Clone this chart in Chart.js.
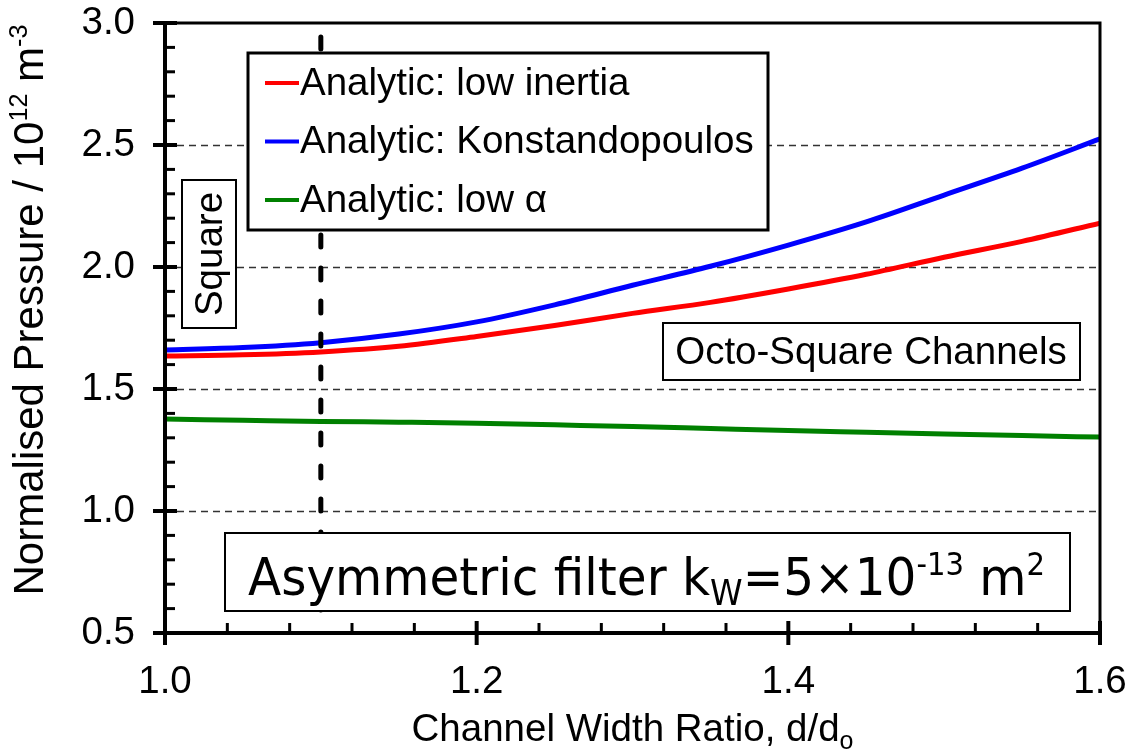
<!DOCTYPE html>
<html>
<head>
<meta charset="utf-8">
<script src="https://cdn.jsdelivr.net/npm/chart.js@4.4.1/dist/chart.umd.min.js"></script>
<style>
  html, body { margin: 0; padding: 0; background: #fff; }
  #wrap { width: 1127px; height: 751px; }
</style>
</head>
<body>
<div id="wrap"><canvas id="chart" width="1127" height="751"></canvas></div>
<script>
// channel width ratio d/do
const widthRatio = [1.00, 1.05, 1.10, 1.15, 1.20, 1.25, 1.30, 1.35, 1.40, 1.45, 1.50, 1.55, 1.60];
// normalised pressure / 1e12 m^-3
const lowInertia      = [1.635, 1.640, 1.652, 1.675, 1.715, 1.760, 1.810, 1.855, 1.910, 1.970, 2.040, 2.105, 2.180];
const konstandopoulos = [1.660, 1.670, 1.690, 1.725, 1.775, 1.845, 1.925, 2.003, 2.090, 2.185, 2.295, 2.405, 2.525];
const lowAlpha        = [1.377, 1.372, 1.367, 1.364, 1.360, 1.353, 1.346, 1.338, 1.330, 1.323, 1.316, 1.309, 1.303];

const seriesNames  = ['Analytic: low inertia', 'Analytic: Konstandopoulos', 'Analytic: low α'];
const seriesColors = ['#ff0000', '#0000ff', '#008000'];
const xTickValues = [1.0, 1.2, 1.4, 1.6];
const yTickValues = [0.5, 1.0, 1.5, 2.0, 2.5, 3.0];
const squareRatio = 1.1;   // dashed marker for square channels

const FONT = "'Liberation Sans', Arial, sans-serif";

function partSize(p, size) {
    return p[1] ? size * (p[2] || 0.6) : size;
}

// draw text made of pieces, some raised (1) or lowered (-1)
function measureRich(ctx, parts, size, family) {
    let w = 0;
    parts.forEach(p => {
        ctx.font = partSize(p, size) + 'px ' + family;
        w += ctx.measureText(p[0]).width;
    });
    return w;
}

function drawRich(ctx, parts, x, y, size, align, family) {
    family = family || FONT;
    const w = measureRich(ctx, parts, size, family);
    let cx = align === 'center' ? x - w / 2 : x;
    parts.forEach(p => {
        const s = partSize(p, size);
        ctx.font = s + 'px ' + family;
        const dy = p[1] === 1 ? -size * 0.38 : (p[1] === -1 ? size * 0.2 : 0);
        ctx.fillText(p[0], cx, y + dy);
        cx += ctx.measureText(p[0]).width;
    });
    return w;
}

const decorations = {
    id: 'decorations',
    beforeDatasetsDraw(chart) {
        const ctx = chart.ctx;
        const a = chart.chartArea;
        const ys = chart.scales.y;
        ctx.save();
        // dashed grid lines
        ctx.strokeStyle = '#333';
        ctx.lineWidth = 1.5;
        ctx.setLineDash([7, 5]);
        yTickValues.forEach(v => {
            if (v === yTickValues[0] || v === yTickValues[yTickValues.length - 1]) return;
            const py = Math.round(ys.getPixelForValue(v)) + 0.5;
            ctx.beginPath();
            ctx.moveTo(a.left, py);
            ctx.lineTo(a.right, py);
            ctx.stroke();
        });
        ctx.restore();
    },
    afterDatasetsDraw(chart) {
        const ctx = chart.ctx;
        const a = chart.chartArea;
        const xs = chart.scales.x;
        const ys = chart.scales.y;
        ctx.save();

        // vertical dashed line at the square channel ratio
        const sx = xs.getPixelForValue(squareRatio);
        ctx.strokeStyle = '#000';
        ctx.lineWidth = 5;
        ctx.lineCap = 'round';
        ctx.setLineDash([12, 21]);
        ctx.beginPath();
        ctx.moveTo(sx, a.top + 14);
        ctx.lineTo(sx, a.bottom - 6);
        ctx.stroke();
        ctx.setLineDash([]);
        ctx.lineCap = 'butt';

        // frame
        ctx.lineWidth = 3;
        ctx.beginPath();
        ctx.moveTo(a.left, a.top);
        ctx.lineTo(a.right, a.top);
        ctx.lineTo(a.right, a.bottom);
        ctx.stroke();
        ctx.lineWidth = 4;
        ctx.beginPath();
        ctx.moveTo(a.left, a.top);
        ctx.lineTo(a.left, a.bottom);
        ctx.lineTo(a.right, a.bottom);
        ctx.stroke();

        // y ticks: major every 0.5 crossing, minor every 0.1 inside
        const yMin = ys.min, yMax = ys.max;
        const nY = Math.round((yMax - yMin) / 0.1);
        for (let k = 0; k <= nY; k++) {
            const py = ys.getPixelForValue(yMin + k * 0.1);
            ctx.beginPath();
            if (k % 5 === 0) {
                ctx.lineWidth = 4;
                ctx.moveTo(a.left - 12, py);
                ctx.lineTo(a.left + 12, py);
            } else {
                ctx.lineWidth = 3;
                ctx.moveTo(a.left, py);
                ctx.lineTo(a.left + 10, py);
            }
            ctx.stroke();
        }
        // x ticks: major every 0.2, minor every 0.04
        const xMin = xs.min, xMax = xs.max;
        const nX = Math.round((xMax - xMin) / 0.04);
        for (let k = 0; k <= nX; k++) {
            const px = xs.getPixelForValue(xMin + k * 0.04);
            ctx.beginPath();
            if (k % 5 === 0) {
                ctx.lineWidth = 4;
                ctx.moveTo(px, a.bottom - 12);
                ctx.lineTo(px, a.bottom + 12);
            } else {
                ctx.lineWidth = 3;
                ctx.moveTo(px, a.bottom);
                ctx.lineTo(px, a.bottom - 10);
            }
            ctx.stroke();
        }

        // legend
        ctx.fillStyle = '#fff';
        ctx.fillRect(248, 53, 520, 177);
        ctx.lineWidth = 3;
        ctx.strokeRect(248, 53, 520, 177);
        ctx.textBaseline = 'middle';
        ctx.textAlign = 'left';
        chart.data.datasets.forEach((ds, i) => {
            const ly = 83 + i * 58.5;
            ctx.strokeStyle = ds.borderColor;
            ctx.lineWidth = 4;
            ctx.beginPath();
            ctx.moveTo(265, ly);
            ctx.lineTo(299, ly);
            ctx.stroke();
            ctx.fillStyle = '#000';
            ctx.font = '38.5px ' + FONT;
            ctx.fillText(ds.label, 300, ly + 1);
        });

        // "Square" box
        ctx.strokeStyle = '#000';
        ctx.fillStyle = '#fff';
        ctx.lineWidth = 2;
        ctx.fillRect(182, 180, 54, 148);
        ctx.strokeRect(182, 180, 54, 148);
        ctx.save();
        ctx.translate(210, 254);
        ctx.rotate(-Math.PI / 2);
        ctx.fillStyle = '#000';
        ctx.textAlign = 'center';
        ctx.textBaseline = 'middle';
        ctx.font = '38.5px ' + FONT;
        ctx.fillText('Square', 0, 1);
        ctx.restore();

        // "Octo-Square Channels" box
        ctx.fillStyle = '#fff';
        ctx.fillRect(663, 323, 417, 57);
        ctx.strokeRect(663, 323, 417, 57);
        ctx.fillStyle = '#000';
        ctx.textAlign = 'center';
        ctx.textBaseline = 'middle';
        ctx.font = '38.5px ' + FONT;
        ctx.fillText('Octo-Square Channels', 871, 353);

        // filter note box
        ctx.fillStyle = '#fff';
        ctx.fillRect(225, 533, 845, 78);
        ctx.strokeRect(225, 533, 845, 78);
        ctx.fillStyle = '#000';
        ctx.textAlign = 'left';
        ctx.textBaseline = 'alphabetic';
        const note = [['Asymmetric filter k', 0], ['W', -1, 0.68], ['=5×10', 0], ['-13', 1, 0.6], [' m', 0], ['2', 1, 0.6]];
        const fam = "'DejaVu Sans', sans-serif";
        ctx.save();
        const squeeze = 797 / measureRich(ctx, note, 52, fam);
        ctx.translate(248, 595);
        ctx.scale(squeeze, 1);
        drawRich(ctx, note, 0, 0, 52, 'left', fam);
        ctx.restore();

        // axis titles
        ctx.fillStyle = '#000';
        ctx.textAlign = 'left';
        ctx.textBaseline = 'alphabetic';
        drawRich(ctx, [['Channel Width Ratio, d/d', 0], ['o', -1, 0.65]], (a.left + a.right) / 2, 741, 38.5, 'center');
        ctx.save();
        ctx.translate(43, (a.top + a.bottom) / 2 - 18);
        ctx.rotate(-Math.PI / 2);
        drawRich(ctx, [['Normalised Pressure / 10', 0], ['12', 1, 0.6], [' m', 0], ['-3', 1, 0.6]], 0, 0, 42, 'center');
        ctx.restore();

        ctx.restore();
    }
};

const datasets = [lowInertia, konstandopoulos, lowAlpha].map((ys, i) => ({
    label: seriesNames[i],
    data: widthRatio.map((x, j) => ({ x: x, y: ys[j] })),
    borderColor: seriesColors[i],
    backgroundColor: seriesColors[i],
    borderWidth: 5,
    pointRadius: 0,
    cubicInterpolationMode: 'monotone',
    fill: false
}));

const chart = new Chart(document.getElementById('chart').getContext('2d'), {
    type: 'line',
    data: { datasets: datasets },
    options: {
        responsive: false,
        animation: false,
        layout: { autoPadding: false, padding: { left: 0, top: 23, right: 27, bottom: 0 } },
        plugins: {
            legend: { display: false },
            tooltip: { enabled: false }
        },
        scales: {
            x: {
                type: 'linear',
                min: 1.0,
                max: 1.6,
                afterBuildTicks: s => { s.ticks = xTickValues.map(v => ({ value: v })); },
                afterFit: s => {
                    s.height = 118;
                    s.paddingLeft = 0;
                    s.paddingRight = 0;
                },
                grid: { display: false, drawTicks: false },
                border: { display: false },
                ticks: {
                    color: '#000',
                    font: { family: FONT, size: 38.5 },
                    padding: 26,
                    maxRotation: 0,
                    callback: v => v.toFixed(1)
                }
            },
            y: {
                type: 'linear',
                min: 0.5,
                max: 3.0,
                afterBuildTicks: s => { s.ticks = yTickValues.map(v => ({ value: v })); },
                afterFit: s => {
                    s.width = 165;
                    s.paddingTop = 0;
                    s.paddingBottom = 0;
                },
                grid: { display: false, drawTicks: false },
                border: { display: false },
                ticks: {
                    color: '#000',
                    font: { family: FONT, size: 38.5 },
                    padding: 30,
                    callback: v => v.toFixed(1)
                }
            }
        }
    },
    plugins: [decorations]
});
</script>
</body>
</html>
